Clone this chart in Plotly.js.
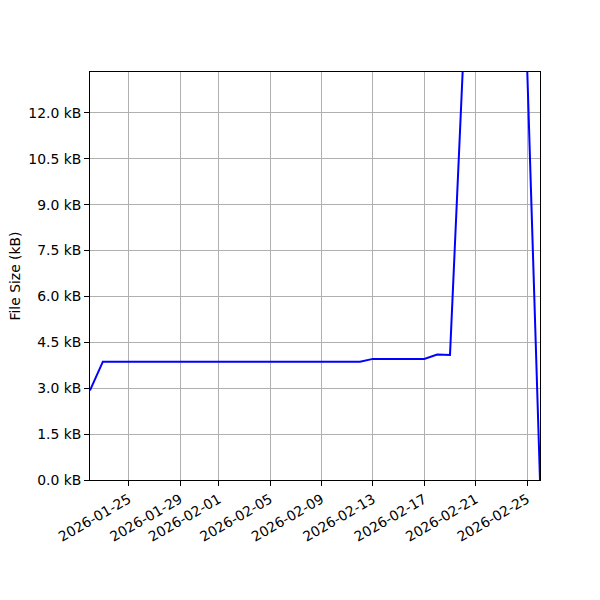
<!DOCTYPE html>
<html>
<head>
<meta charset="utf-8">
<script src="https://cdn.plot.ly/plotly-3.0.1.min.js"></script>
<style>
  body { margin: 0; background: #fff; }
  #chart { width: 600px; height: 600px; }
</style>
</head>
<body>
<div id="chart"></div>
<script>
// Daily file size readings (kB)
var dates = [
  "2026-01-22", "2026-01-23", "2026-01-24", "2026-01-25", "2026-01-26",
  "2026-01-27", "2026-01-28", "2026-01-29", "2026-01-30", "2026-01-31",
  "2026-02-01", "2026-02-02", "2026-02-03", "2026-02-04", "2026-02-05",
  "2026-02-06", "2026-02-07", "2026-02-08", "2026-02-09", "2026-02-10",
  "2026-02-11", "2026-02-12", "2026-02-13", "2026-02-14", "2026-02-15",
  "2026-02-16", "2026-02-17", "2026-02-18", "2026-02-19", "2026-02-20",
  "2026-02-21", "2026-02-22", "2026-02-23", "2026-02-24", "2026-02-25",
  "2026-02-26"
];
var sizes = [
  2.93, 3.87, 3.87, 3.87, 3.87,
  3.87, 3.87, 3.87, 3.87, 3.87,
  3.87, 3.87, 3.87, 3.87, 3.87,
  3.87, 3.87, 3.87, 3.87, 3.87,
  3.87, 3.87, 3.96, 3.96, 3.96,
  3.96, 3.96, 4.10, 4.09, 13.5,
  13.6, 13.6, 13.6, 13.6, 13.5,
  0
];

// Tick labels
var xTicks = [
  "2026-01-25", "2026-01-29", "2026-02-01", "2026-02-05", "2026-02-09",
  "2026-02-13", "2026-02-17", "2026-02-21", "2026-02-25"
];
var yTicks = [0, 1.5, 3, 4.5, 6, 7.5, 9, 10.5, 12];

var trace = {
  x: dates,
  y: sizes,
  type: "scatter",
  mode: "lines",
  line: { color: "#0000ff", width: 2 },
  hoverinfo: "x+y"
};

var axisCommon = {
  showline: true,
  linecolor: "#000",
  linewidth: 1,
  mirror: true,
  ticks: "outside",
  ticklen: 5,
  tickwidth: 1,
  tickcolor: "#000",
  showgrid: true,
  gridcolor: "#b0b0b0",
  gridwidth: 1,
  zeroline: false,
  tickfont: { family: "DejaVu Sans", size: 13.9, color: "#000" }
};

var layout = {
  width: 600,
  height: 600,
  margin: { l: 90, r: 60, t: 72, b: 120 },
  paper_bgcolor: "#fff",
  plot_bgcolor: "#fff",
  showlegend: false,
  xaxis: Object.assign({}, axisCommon, {
    type: "date",
    range: [dates[0], dates[dates.length - 1]],
    tickmode: "array",
    tickvals: xTicks,
    ticktext: xTicks,
    tickangle: -30
  }),
  yaxis: Object.assign({}, axisCommon, {
    range: [0, 13.34],
    tickmode: "array",
    tickvals: yTicks,
    ticktext: yTicks.map(function (v) { return v.toFixed(1) + " kB"; }),
    title: {
      text: "File Size (kB)",
      font: { family: "DejaVu Sans", size: 13.9, color: "#000" },
      standoff: 4
    }
  })
};

Plotly.newPlot("chart", [trace], layout, { displayModeBar: false, staticPlot: true });
</script>
</body>
</html>
